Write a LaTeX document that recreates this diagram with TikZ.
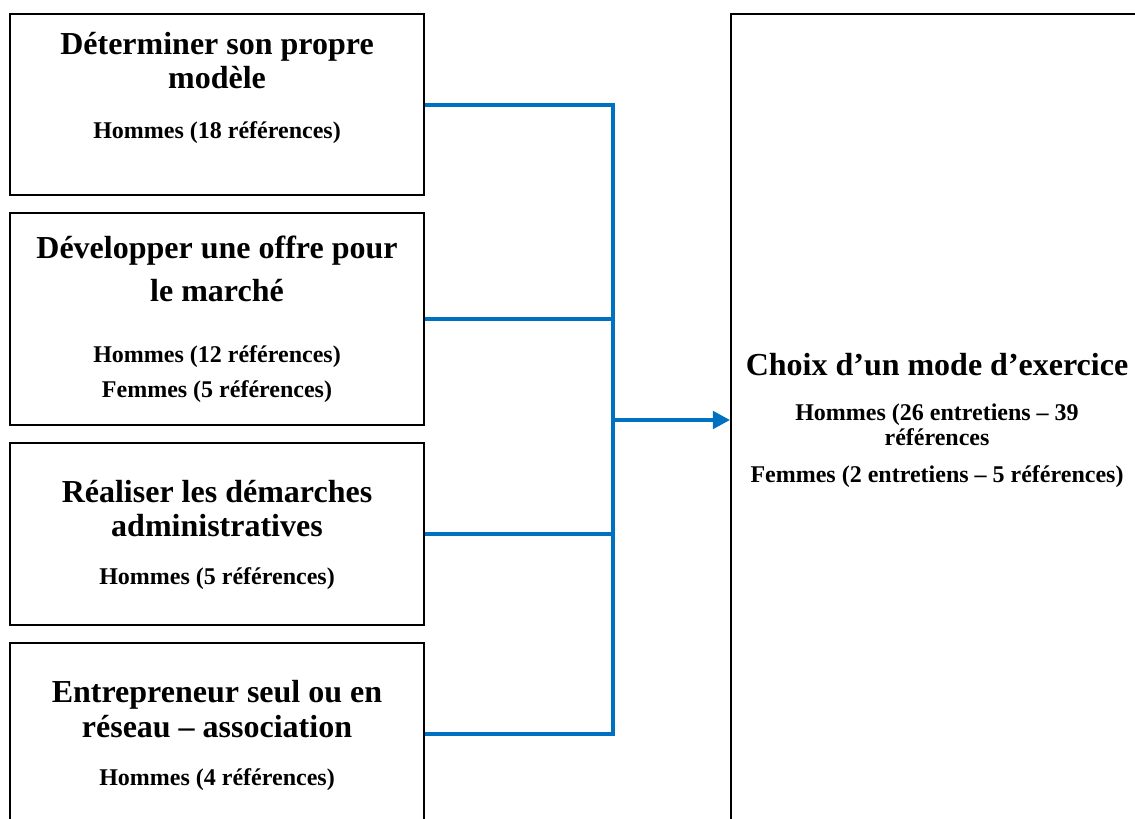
\documentclass[tikz,border=0pt]{standalone}
\usepackage{fontspec}
\setmainfont{Liberation Serif}
\usetikzlibrary{arrows.meta,positioning}
\definecolor{lienbleu}{RGB}{0,112,192}
\tikzset{
    boite/.style={
        draw=black,line width=1.3pt,minimum width=310.5pt,
        inner sep=0pt,fill=white
    },
    titre/.style={
        align=center,font=\fontsize{24}{26}\selectfont\bfseries
    },
    soustitre/.style={
        align=center,font=\fontsize{18}{19}\selectfont\bfseries
    },
    lien/.style={
        line width=3pt,draw=lienbleu
    },
    fleche/.style={
        lien,-{Triangle[length=13pt,width=13pt]}
    }
}
\begin{document}
\begin{tikzpicture}[x=0.75pt,y=-0.75pt]
\useasboundingbox (0,0) rectangle (1135,818);
\clip (0,0) rectangle (1135,818);

% boites de gauche
\node[boite,minimum height=135.75pt](b1) at (217,104.5) {};
\node[boite,minimum height=159pt](b2) at (217,319) {};
\node[boite,minimum height=136.5pt](b3) at (217,534) {};
\node[boite,minimum height=136.5pt](b4) at (217,734) {};

% boite de droite
\node[boite,minimum width=309pt,minimum height=609pt](res) at (937,420) {};

\node[titre](t1) at (217,60.5) {D\'eterminer son propre\\mod\`ele};
\node[soustitre](s1) at (217,133) {Hommes (18 r\'ef\'erences)};

\node[titre](t2) at (217,269) {D\'evelopper une offre pour\\[6pt]le march\'e};
\node[soustitre](s2) at (217,374)
{Hommes (12 r\'ef\'erences)\\[7pt]Femmes (5 r\'ef\'erences)};

\node[titre](t3) at (217,508.5) {R\'ealiser les d\'emarches\\administratives};
\node[soustitre](s3) at (217,579) {Hommes (5 r\'ef\'erences)};

\node[titre](t4) at (217,709) {Entrepreneur seul ou en\\r\'eseau -- association};
\node[soustitre](s4) at (217,780) {Hommes (4 r\'ef\'erences)};

\node[titre](t5) at (937,365) {Choix d’un mode d’exercice};
\node[soustitre](s5) at (937,424.5) {Hommes (26 entretiens -- 39\\r\'ef\'erences};
\node[soustitre](s6) at (937,477) {Femmes (2 entretiens -- 5 r\'ef\'erences)};

% connecteurs
\coordinate (bus) at (613,0);
\draw[lien] (b1.east) -- (b1.east -| bus) -- (b4.east -| bus) -- (b4.east);
\draw[lien] (b2.east) -- (b2.east -| bus);
\draw[lien] (b3.east) -- (b3.east -| bus);
\draw[fleche] (res.west -| bus) -- (res.west);

\end{tikzpicture}
\end{document}
